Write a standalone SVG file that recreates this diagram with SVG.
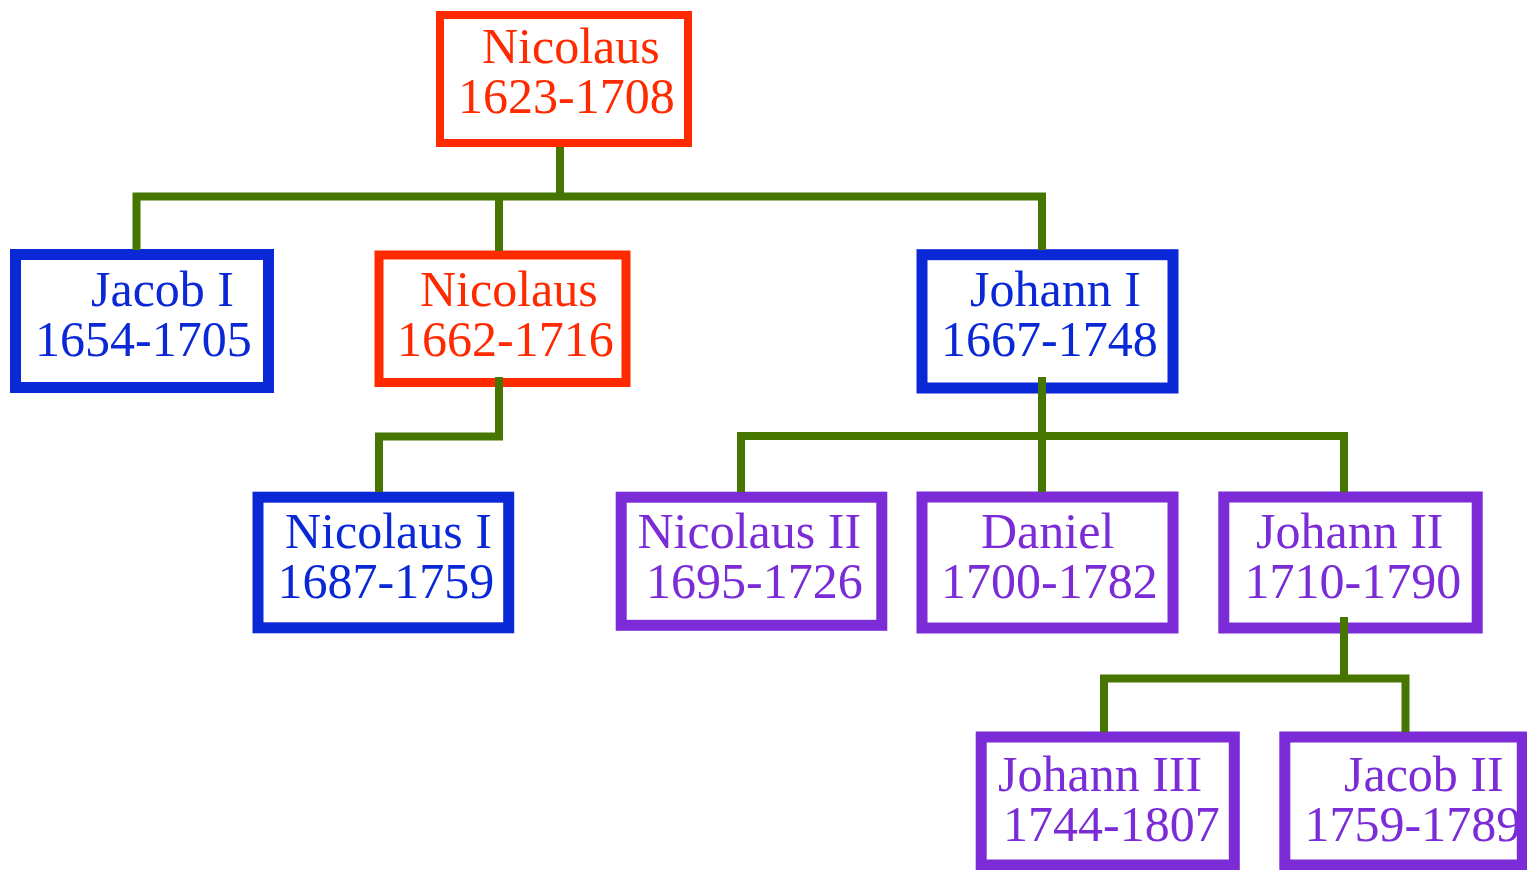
<svg xmlns="http://www.w3.org/2000/svg" width="1527" height="870" viewBox="0 0 1527 870">
<style>
.box{fill:#fff;stroke-width:11}
.red .box{stroke:#ff2a00}
.blue .box{stroke:#0a28d6}
.purple .box{stroke:#7b2cd6}
text{font-family:"Liberation Serif","Times New Roman",serif;font-size:50px}
.red text{fill:#ff2a00}
.blue text{fill:#0a28d6}
.purple text{fill:#7b2cd6}
.conn path{fill:none;stroke:#467600;stroke-width:8;stroke-linejoin:miter;stroke-linecap:butt}
</style>
<rect width="1527" height="870" fill="#fff"/>
<g id="n-nicolaus-1623" class="red">
<rect class="box" x="440" y="15" width="248" height="128" style="stroke-width:8"/>
<text x="482" y="63">Nicolaus</text>
<text x="458" y="113">1623-1708</text>
</g>
<g id="n-jacob-i" class="blue">
<rect class="box" x="15.5" y="254.5" width="253" height="133"/>
<text x="91" y="306">Jacob I</text>
<text x="35" y="356">1654-1705</text>
</g>
<g id="n-nicolaus-1662" class="red">
<rect class="box" x="379" y="255" width="247" height="127.5" style="stroke-width:9"/>
<text x="420" y="306">Nicolaus</text>
<text x="397" y="356">1662-1716</text>
</g>
<g id="n-johann-i" class="blue">
<rect class="box" x="922" y="254.7" width="251" height="133.3"/>
<text x="970" y="306">Johann I</text>
<text x="941" y="356">1667-1748</text>
</g>
<g id="n-nicolaus-i" class="blue">
<rect class="box" x="258" y="497.2" width="250.7" height="130.6"/>
<text x="285" y="548.3">Nicolaus I</text>
<text x="277.5" y="598.3">1687-1759</text>
</g>
<g id="n-nicolaus-ii" class="purple">
<rect class="box" x="621.2" y="497.2" width="260.6" height="128.1"/>
<text x="637.5" y="548.3">Nicolaus II</text>
<text x="646" y="598.3">1695-1726</text>
</g>
<g id="n-daniel" class="purple">
<rect class="box" x="922" y="497" width="251" height="131"/>
<text x="981" y="548.3">Daniel</text>
<text x="941" y="598.3">1700-1782</text>
</g>
<g id="n-johann-ii" class="purple">
<rect class="box" x="1223.8" y="497" width="253.4" height="131"/>
<text x="1256" y="548.3">Johann II</text>
<text x="1244.5" y="598.3">1710-1790</text>
</g>
<g id="n-johann-iii" class="purple">
<rect class="box" x="981.2" y="737" width="253.1" height="128"/>
<text x="998" y="790.7">Johann III</text>
<text x="1003" y="840.7">1744-1807</text>
</g>
<g id="n-jacob-ii" class="purple">
<rect class="box" x="1284.8" y="737" width="237.5" height="128"/>
<text x="1344" y="790.7">Jacob II</text>
<text x="1304.5" y="840.7">1759-1789</text>
</g>
<g id="connectors" class="conn">
<path d="M560,147 V196.5"/>
<path d="M136.5,250 V196.5 H1042 V250"/>
<path d="M499,196.5 V251"/>
<path d="M499,377 V436.5 H379 V492"/>
<path d="M1042,377 V492"/>
<path d="M741,492 V436 H1344 V492"/>
<path d="M1344,617 V678.5"/>
<path d="M1104,732 V678.5 H1405.5 V732"/>
</g>
</svg>
